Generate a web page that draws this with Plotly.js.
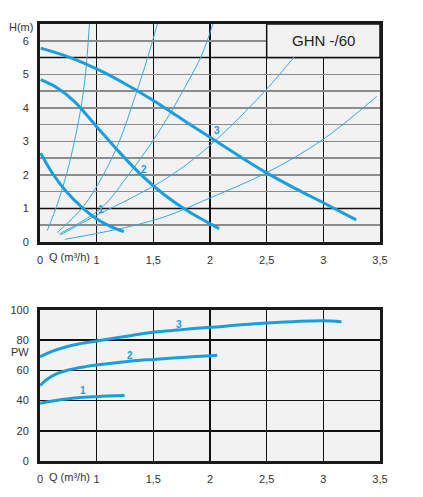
<!DOCTYPE html>
<html>
<head>
<meta charset="utf-8">
<script src="https://cdn.plot.ly/plotly-3.0.1.min.js"></script>
<style>html,body{margin:0;padding:0;background:#fff;}#chart{width:423px;height:497px;}</style>
</head>
<body>
<div id="chart"></div>
<script>
// Chart x scale: the left edge (labelled "0") sits at 0.5, each division is 0.5
const xTickVals = [0.5, 1, 1.5, 2, 2.5, 3, 3.5];
const xTickText = ['0', '1', '1,5', '2', '2,5', '3', '3,5'];
const hTickVals = [0, 0.5, 1, 1.5, 2, 2.5, 3, 3.5, 4, 4.5, 5, 5.5, 6];
const hTickText = ['0', '', '1', '', '2', '', '3', '', '4', '', '5', '', '6'];
const pTickVals = [0, 20, 40, 60, 80, 100];

// Pump curves H(Q), speeds 1..3
const q1 = [0.506, 0.61, 0.72, 0.88, 0.99, 1.125, 1.24];
const h1 = [2.65, 2.05, 1.55, 1.0, 0.71, 0.46, 0.31];
const q2 = [0.506, 0.65, 0.8, 1.0, 1.2, 1.4, 1.6, 1.8, 2.08];
const h2 = [4.84, 4.6, 4.2, 3.44, 2.68, 1.98, 1.4, 0.93, 0.4];
const q3 = [0.506, 0.75, 1.0, 1.25, 1.5, 1.75, 2.0, 2.25, 2.5, 2.75, 3.0, 3.29];
const h3 = [5.78, 5.52, 5.16, 4.72, 4.22, 3.67, 3.12, 2.58, 2.06, 1.6, 1.17, 0.66];

// System curves (thin)
const sAq = [0.564, 0.66, 0.76, 0.84, 0.895, 0.936];
const sAh = [0.34, 1.2, 2.35, 3.6, 4.8, 6.5];
const sBq = [0.652, 0.88, 1.05, 1.2, 1.345, 1.45, 1.535];
const sBh = [0.28, 1.05, 1.95, 3.0, 4.4, 5.5, 6.5];
const sCq = [0.67, 1.04, 1.28, 1.5, 1.64, 1.816, 1.93, 2.026];
const sCh = [0.24, 1.01, 2.0, 3.04, 3.79, 4.84, 5.6, 6.5];
const sDq = [0.68, 1.0, 1.3, 1.64, 1.99, 2.49, 2.74];
const sDh = [0.21, 0.8, 1.3, 1.95, 2.85, 4.52, 5.51];
const sEq = [0.72, 1.29, 1.64, 1.99, 2.49, 2.99, 3.47];
const sEh = [0.08, 0.46, 0.8, 1.3, 2.05, 3.04, 4.34];

// Power curves P(Q)
const p1q = [0.5, 0.6, 0.734, 0.85, 1.0, 1.246];
const p1 = [38.2, 39.6, 41, 42, 42.6, 43.3];
const p2q = [0.5, 0.56, 0.64, 0.75, 0.9, 1.0, 1.25, 1.5, 1.75, 2.0, 2.064];
const p2 = [50, 54, 57.5, 60.3, 62.5, 63.6, 65.8, 67.3, 68.6, 69.7, 70];
const p3q = [0.5, 0.6, 0.734, 0.85, 1.0, 1.25, 1.5, 1.75, 2.0, 2.5, 2.985, 3.16];
const p3 = [69.1, 72.5, 75.7, 77.7, 79.5, 82.5, 85.2, 87, 88.5, 91.4, 92.9, 92.3];

// Curve labels
const speedLabels = ['1', '2', '3'];
const hLabelQ = [1.04, 1.42, 2.06];
const hLabelH = [0.96, 2.17, 3.31];
const pLabelQ = [0.88, 1.29, 1.728];
const pLabelP = [46.5, 70.2, 90.5];

const BLUE = '#1a9fdc';
const THIN = '#3aa9e0';
const BG = '#f2f2f2';
const FONT = 'Liberation Sans, Arial, sans-serif';

function thick(x, y, xa, ya) {
  return {x: x, y: y, xaxis: xa, yaxis: ya, mode: 'lines', type: 'scatter',
    line: {color: BLUE, width: 3, shape: 'spline', smoothing: 1}, hoverinfo: 'skip', showlegend: false};
}
function thin(x, y) {
  return {x: x, y: y, xaxis: 'x', yaxis: 'y', mode: 'lines', type: 'scatter',
    line: {color: THIN, width: 1, shape: 'spline', smoothing: 1}, hoverinfo: 'skip', showlegend: false};
}

const traces = [
  thin(sAq, sAh), thin(sBq, sBh), thin(sCq, sCh), thin(sDq, sDh), thin(sEq, sEh),
  thick(q1, h1, 'x', 'y'), thick(q2, h2, 'x', 'y'), thick(q3, h3, 'x', 'y'),
  thick(p1q, p1, 'x2', 'y2'), thick(p2q, p2, 'x2', 'y2'), thick(p3q, p3, 'x2', 'y2')
];

const W = 423, H = 497;
const xDom = [40 / W, 380 / W];
const topDom = [1 - 242 / H, 1 - 24 / H];
const botDom = [1 - 461 / H, 1 - 310 / H];

function xAxis(anchor) {
  return {domain: xDom, anchor: anchor, range: [0.5, 3.5], tickvals: xTickVals, ticktext: xTickText,
    showgrid: true, gridcolor: '#111', gridwidth: 1.5, zeroline: false,
    showline: true, mirror: true, linecolor: '#1a1a1a', linewidth: 3, ticks: '',
    ticklabelstandoff: 6, tickfont: {family: FONT, size: 11, color: '#333'}, fixedrange: true};
}

const annotations = [];
speedLabels.forEach((t, i) => {
  annotations.push({x: hLabelQ[i], y: hLabelH[i], xref: 'x', yref: 'y', text: '<b>' + t + '</b>',
    showarrow: false, font: {family: FONT, size: 10, color: BLUE}});
  annotations.push({x: pLabelQ[i], y: pLabelP[i], xref: 'x2', yref: 'y2', text: '<b>' + t + '</b>',
    showarrow: false, font: {family: FONT, size: 10, color: BLUE}});
});
annotations.push(
  {x: 35 / W, y: 1 - 27 / H, xref: 'paper', yref: 'paper', xanchor: 'right', yanchor: 'middle',
   text: 'H(m)', showarrow: false, font: {family: FONT, size: 11, color: '#333'}},
  {x: 31 / W, y: 1 - 352 / H, xref: 'paper', yref: 'paper', xanchor: 'right', yanchor: 'middle',
   text: 'PW', showarrow: false, font: {family: FONT, size: 11, color: '#333'}},
  {x: 0.76, y: 1 - 257 / H, xref: 'x', yref: 'paper', yanchor: 'middle',
   text: 'Q (m³/h)', showarrow: false, font: {family: FONT, size: 11, color: '#333'}},
  {x: 0.76, y: 1 - 477 / H, xref: 'x2', yref: 'paper', yanchor: 'middle',
   text: 'Q (m³/h)', showarrow: false, font: {family: FONT, size: 11, color: '#333'}},
  {x: 3.0, y: 6.0, xref: 'x', yref: 'y', text: 'GHN -/60', showarrow: false,
   font: {family: FONT, size: 15, color: '#222'}}
);

const layout = {
  width: W, height: H,
  margin: {l: 0, r: 0, t: 0, b: 0},
  paper_bgcolor: '#ffffff', plot_bgcolor: BG,
  showlegend: false,
  xaxis: xAxis('y'),
  xaxis2: xAxis('y2'),
  yaxis: {domain: topDom, anchor: 'x', range: [0, 6.5], tickvals: hTickVals, ticktext: hTickText,
    showgrid: true, gridcolor: '#8c8c8c', gridwidth: 1.5, zeroline: false,
    showline: true, mirror: true, linecolor: '#1a1a1a', linewidth: 3, ticks: '',
    ticklabelstandoff: 6, tickfont: {family: FONT, size: 11, color: '#333'}, fixedrange: true},
  yaxis2: {domain: botDom, anchor: 'x2', range: [0, 100], tickvals: pTickVals,
    showgrid: true, gridcolor: '#111', gridwidth: 1.5, zeroline: false,
    showline: true, mirror: true, linecolor: '#1a1a1a', linewidth: 3, ticks: '',
    ticklabelstandoff: 6, tickfont: {family: FONT, size: 11, color: '#333'}, fixedrange: true},
  shapes: [
    {type: 'line', xref: 'x', yref: 'y', x0: 0.5, x1: 3.5, y0: 1, y1: 1, layer: 'between',
     line: {color: '#111', width: 1.5}},
    {type: 'line', xref: 'x', yref: 'y', x0: 0.5, x1: 3.5, y0: 5.5, y1: 5.5, layer: 'between',
     line: {color: '#111', width: 1.5}},
    {type: 'rect', xref: 'x', yref: 'y', x0: 2.5, x1: 3.5, y0: 5.5, y1: 6.5, layer: 'between',
     fillcolor: BG, line: {color: '#111', width: 1.5}}
  ],
  annotations: annotations
};

Plotly.newPlot('chart', traces, layout, {displayModeBar: false, staticPlot: true});
</script>
</body>
</html>
